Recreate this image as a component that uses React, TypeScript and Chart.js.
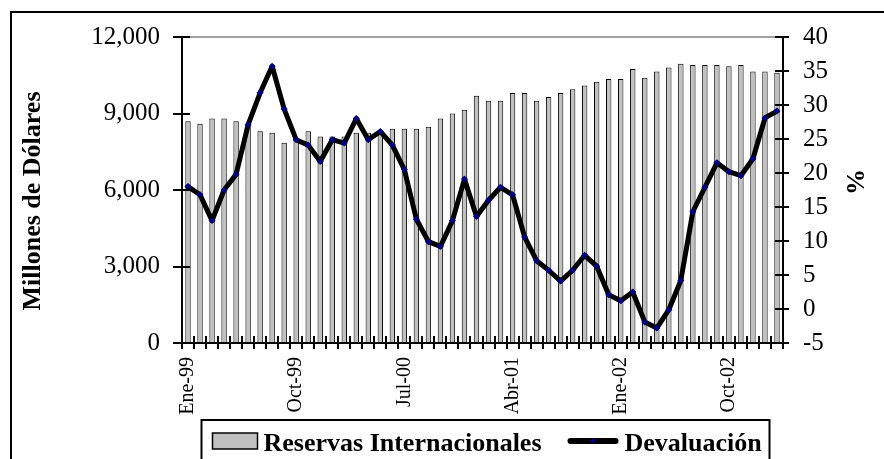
import React, { useEffect, useRef } from "react";
import { Chart, registerables } from "chart.js";

Chart.register(...registerables);

const FONT = '"Liberation Serif", "Times New Roman", Times, serif';

const meses = [
  "Ene-99", "Feb-99", "Mar-99", "Abr-99", "May-99", "Jun-99", "Jul-99", "Ago-99", "Sep-99", "Oct-99", "Nov-99", "Dic-99",
  "Ene-00", "Feb-00", "Mar-00", "Abr-00", "May-00", "Jun-00", "Jul-00", "Ago-00", "Sep-00", "Oct-00", "Nov-00", "Dic-00",
  "Ene-01", "Feb-01", "Mar-01", "Abr-01", "May-01", "Jun-01", "Jul-01", "Ago-01", "Sep-01", "Oct-01", "Nov-01", "Dic-01",
  "Ene-02", "Feb-02", "Mar-02", "Abr-02", "May-02", "Jun-02", "Jul-02", "Ago-02", "Sep-02", "Oct-02", "Nov-02", "Dic-02",
  "Ene-03", "Feb-03",
];

const reservas = [
  8700, 8600, 8800, 8800, 8700, 8550, 8300, 8250, 7850, 8050, 8300, 8100,
  8100, 8100, 8250, 8250, 8300, 8400, 8400, 8400, 8480, 8800, 9000, 9150,
  9700, 9500, 9500, 9800, 9800, 9500, 9650, 9800, 9950, 10100, 10250, 10350,
  10350, 10750, 10400, 10650, 10800, 10950, 10900, 10900, 10900, 10850, 10900, 10650,
  10650, 10600,
];

const devaluacion = [
  18.0, 16.8, 13.0, 17.5, 19.8, 27.1, 31.8, 35.7, 29.4, 24.9, 24.1, 21.7,
  24.9, 24.4, 28.0, 24.9, 26.1, 24.1, 20.5, 13.2, 9.9, 9.2, 13.0, 19.1,
  13.6, 16.0, 17.9, 16.8, 10.6, 7.1, 5.7, 4.1, 5.7, 7.9, 6.3, 2.1,
  1.2, 2.5, -1.9, -2.8, -0.1, 4.2, 14.3, 17.9, 21.5, 20.2, 19.6, 22.1,
  28.1, 29.1,
];

const labelEvery = 9;
const leftAxis = { min: 0, max: 12000, step: 3000 };
const rightAxis = { min: -5, max: 40, step: 5 };
const leftTitle = "Millones de Dólares";
const rightTitle = "%";
const seriesNames = ["Reservas Internacionales", "Devaluación"];

const BAR_FILL = "#c0c0c0";
const LINE_COLOR = "#000000";
const MARKER_COLOR = "#000080";

const decorPlugin = {
  id: "decor",
  afterDraw(chart: any) {
    const ctx = chart.ctx as CanvasRenderingContext2D;
    const { left, right, top, bottom } = chart.chartArea;
    const x = chart.scales.x;
    const y = chart.scales.y;
    const y1 = chart.scales.y1;
    ctx.save();

    // outer frame (continues past right/bottom edges)
    ctx.fillStyle = "#000";
    ctx.fillRect(10, 11, chart.width, 2);
    ctx.fillRect(10, 11, 2, chart.height);

    // top gray border of plot
    ctx.fillStyle = "#a0a0a0";
    ctx.fillRect(left, top - 1, right - left, 2);

    // axis lines
    ctx.fillStyle = "#000";
    ctx.fillRect(left - 1, top - 1, 2, bottom - top + 2);
    ctx.fillRect(right - 1, top - 1, 2, bottom - top + 2);
    ctx.fillRect(left, bottom - 1, right - left, 2);

    // cross tick marks
    y.ticks.forEach((t: any) => {
      const py = Math.round(y.getPixelForValue(t.value));
      ctx.fillRect(left - 9, py - 1, 17, 2);
    });
    y1.ticks.forEach((t: any) => {
      const py = Math.round(y1.getPixelForValue(t.value));
      ctx.fillRect(right - 8, py - 1, 14, 2);
    });
    const n = meses.length;
    const step = x.getPixelForValue(1) - x.getPixelForValue(0);
    for (let i = 0; i <= n; i++) {
      const px = Math.round(x.getPixelForValue(0) - step / 2 + i * step);
      ctx.fillRect(px - 1, bottom - 7, 2, 13);
    }

    // axis titles
    ctx.fillStyle = "#000";
    ctx.font = `bold 26px ${FONT}`;
    ctx.textAlign = "center";
    ctx.textBaseline = "middle";
    ctx.save();
    ctx.translate(33, (top + bottom) / 2 + 11);
    ctx.rotate(-Math.PI / 2);
    ctx.fillText(leftTitle, 0, 0);
    ctx.restore();
    ctx.save();
    ctx.translate(857, (top + bottom) / 2 - 8);
    ctx.rotate(-Math.PI / 2);
    ctx.fillText(rightTitle, 0, 0);
    ctx.restore();

    // legend
    const cx = (left + right) / 2;
    const boxL = cx - 281;
    const boxR = cx + 287;
    const boxT = 420;
    ctx.lineWidth = 2;
    ctx.strokeStyle = "#000";
    ctx.strokeRect(boxL, boxT, boxR - boxL, 80);

    const baseY = 451;
    // bar swatch
    ctx.fillStyle = BAR_FILL;
    ctx.fillRect(boxL + 11, 433, 45, 16);
    ctx.lineWidth = 1.5;
    ctx.strokeRect(boxL + 11, 433, 45, 16);
    ctx.fillStyle = "#000";
    ctx.textAlign = "left";
    ctx.textBaseline = "alphabetic";
    ctx.fillText(seriesNames[0], boxL + 62, baseY);

    // line swatch
    const lx0 = boxL + 369;
    const lx1 = boxL + 414;
    ctx.beginPath();
    ctx.lineCap = "round";
    ctx.lineWidth = 6;
    ctx.strokeStyle = LINE_COLOR;
    ctx.moveTo(lx0, 441);
    ctx.lineTo(lx1, 441);
    ctx.stroke();
    ctx.fillStyle = MARKER_COLOR;
    const mx = (lx0 + lx1) / 2;
    ctx.beginPath();
    ctx.moveTo(mx, 438);
    ctx.lineTo(mx + 3, 441);
    ctx.lineTo(mx, 444);
    ctx.lineTo(mx - 3, 441);
    ctx.closePath();
    ctx.fill();
    ctx.fillStyle = "#000";
    ctx.fillText(seriesNames[1], boxL + 423, baseY);

    ctx.restore();
  },
};

export default function App() {
  const canvasRef = useRef<HTMLCanvasElement | null>(null);

  useEffect(() => {
    if (!canvasRef.current) return;
    const chart = new Chart(canvasRef.current, {
      type: "bar",
      data: {
        labels: meses,
        datasets: [
          {
            type: "line",
            label: seriesNames[1],
            data: devaluacion,
            yAxisID: "y1",
            borderColor: LINE_COLOR,
            borderWidth: 5,
            borderJoinStyle: "round",
            borderCapStyle: "round",
            tension: 0,
            pointStyle: "rectRot",
            pointRadius: 3.5,
            pointBorderWidth: 0,
            pointBackgroundColor: MARKER_COLOR,
            pointBorderColor: MARKER_COLOR,
            order: 0,
          } as any,
          {
            type: "bar",
            label: seriesNames[0],
            data: reservas,
            yAxisID: "y",
            backgroundColor: BAR_FILL,
            borderColor: "#000",
            borderWidth: 1,
            barPercentage: 0.45,
            categoryPercentage: 1,
            order: 1,
          } as any,
        ],
      },
      options: {
        animation: false,
        responsive: false,
        maintainAspectRatio: false,
        layout: { padding: { top: 35, left: 0, right: 0, bottom: 0 } },
        plugins: {
          legend: { display: false },
          tooltip: { enabled: false },
          title: { display: false },
        },
        scales: {
          x: {
            offset: true,
            grid: { display: false, drawTicks: false },
            border: { display: false },
            ticks: {
              autoSkip: false,
              maxRotation: 90,
              minRotation: 90,
              padding: 14,
              color: "#000",
              font: { family: FONT, size: 20 },
              callback: (_v: any, i: number) => (i % labelEvery === 0 ? meses[i] : ""),
            },
            afterFit: (s: any) => {
              s.height = 116;
            },
          },
          y: {
            position: "left",
            min: leftAxis.min,
            max: leftAxis.max,
            grid: { display: false, drawTicks: false },
            border: { display: false },
            ticks: {
              stepSize: leftAxis.step,
              padding: 22,
              color: "#000",
              font: { family: FONT, size: 25 },
              callback: (v: any) => Number(v).toLocaleString("en-US"),
            },
            afterFit: (s: any) => {
              s.width = 182;
            },
          },
          y1: {
            position: "right",
            min: rightAxis.min,
            max: rightAxis.max,
            grid: { display: false, drawTicks: false },
            border: { display: false },
            ticks: {
              stepSize: rightAxis.step,
              padding: 20,
              color: "#000",
              font: { family: FONT, size: 25 },
            },
            afterFit: (s: any) => {
              s.width = 101;
            },
          },
        },
      } as any,
      plugins: [decorPlugin],
    });
    return () => chart.destroy();
  }, []);

  return (
    <div style={{ position: "fixed", left: 0, top: 0, width: 884, height: 459, background: "#fff", overflow: "hidden" }}>
      <canvas ref={canvasRef} width={884} height={459} style={{ display: "block", width: 884, height: 459 }} />
    </div>
  );
}
